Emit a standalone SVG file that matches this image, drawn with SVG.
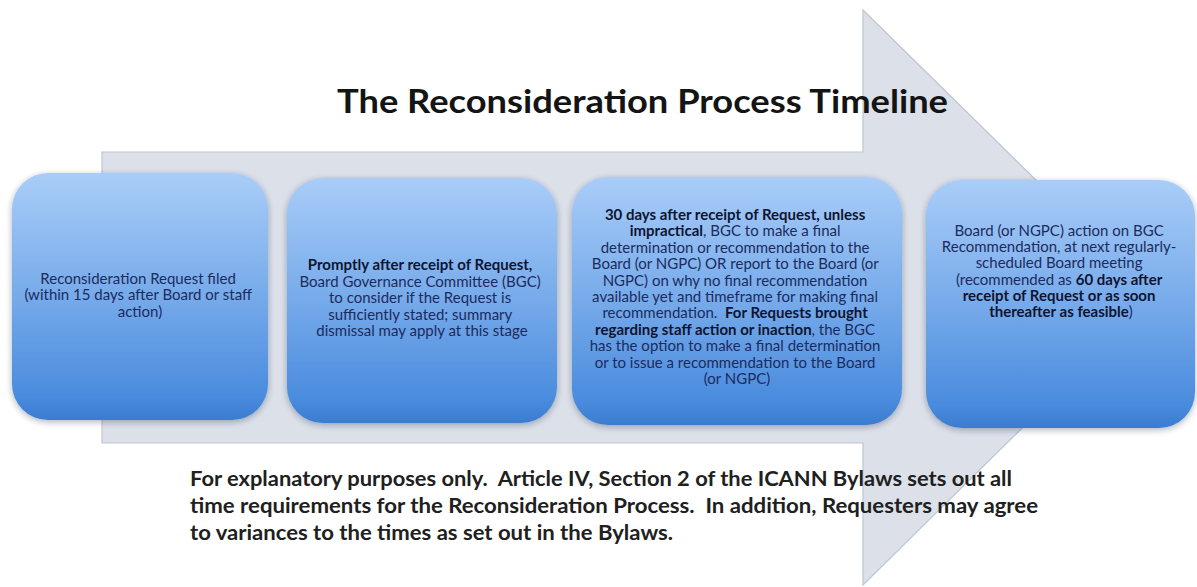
<svg xmlns="http://www.w3.org/2000/svg" width="1197" height="587" viewBox="0 0 1197 587">
  <style>
    .title { font-family: Lato, "Open Sans", "Liberation Sans", sans-serif; font-weight: 700; font-size: 33px; fill: #141414; }
    .note { font-family: Lato, "Open Sans", "Liberation Sans", sans-serif; font-weight: 700; font-size: 21px; fill: #202020; }
    .bt { font-family: Lato, "Open Sans", "Liberation Sans", sans-serif; font-size: 15px; fill: #1c2b5e; text-anchor: middle; }
    .b { font-weight: 700; fill: #0d1532; }
    .box { fill: url(#boxGrad); filter: url(#shadow); }
    .arrow { fill: #dbe0e9; stroke: #bfc6d1; stroke-width: 1.2; }
  </style>
  <defs>
    <linearGradient id="boxGrad" x1="0" y1="0" x2="0" y2="1">
      <stop offset="0" stop-color="#a9cdf8"/>
      <stop offset="0.5" stop-color="#76aaea"/>
      <stop offset="0.9" stop-color="#4a8cde"/>
      <stop offset="1" stop-color="#3b7cd0"/>
    </linearGradient>
    <filter id="shadow" x="-10%" y="-10%" width="120%" height="125%">
      <feDropShadow dx="0" dy="2" stdDeviation="3" flood-color="#1a2a4a" flood-opacity="0.35"/>
    </filter>
  </defs>
  <rect width="1197" height="587" fill="#ffffff"/>

  <g id="connectors">
    <polygon class="arrow" points="102,152 863,152 863,10 1155,297 863,585 863,443 102,443"/>
  </g>

  <g id="title">
    <text class="title" x="642.5" y="113" text-anchor="middle" textLength="611" lengthAdjust="spacingAndGlyphs">The Reconsideration Process Timeline</text>
  </g>

  <g id="node1">
    <rect class="box" x="12" y="173" width="256" height="247" rx="36"/>
    <text class="bt">
      <tspan x="140" y="284">Reconsideration Request filed</tspan>
      <tspan x="140" y="300.4">(within 15 days after Board or staff</tspan>
      <tspan x="140" y="316.8">action)</tspan>
    </text>
  </g>

  <g id="node2">
    <rect class="box" x="287" y="178" width="270" height="245" rx="36"/>
    <text class="bt">
      <tspan x="422" y="270" class="b">Promptly after receipt of Request,</tspan>
      <tspan x="422" y="286.5">Board Governance Committee (BGC)</tspan>
      <tspan x="422" y="303">to consider if the Request is</tspan>
      <tspan x="422" y="319.5">sufficiently stated; summary</tspan>
      <tspan x="422" y="336">dismissal may apply at this stage</tspan>
    </text>
  </g>

  <g id="node3">
    <rect class="box" x="572" y="177" width="330" height="248" rx="36"/>
    <text class="bt">
      <tspan x="737" y="220" class="b">30 days after receipt of Request, unless</tspan>
      <tspan x="737" y="236.4"><tspan class="b">impractical</tspan>, BGC to make a final</tspan>
      <tspan x="737" y="252.8">determination or recommendation to the</tspan>
      <tspan x="737" y="269.2">Board (or NGPC) OR report to the Board (or</tspan>
      <tspan x="737" y="285.6">NGPC) on why no final recommendation</tspan>
      <tspan x="737" y="302">available yet and timeframe for making final</tspan>
      <tspan x="737" y="318.4">recommendation.&#160; <tspan class="b">For Requests brought</tspan></tspan>
      <tspan x="737" y="334.8"><tspan class="b">regarding staff action or inaction</tspan>, the BGC</tspan>
      <tspan x="737" y="351.2">has the option to make a final determination</tspan>
      <tspan x="737" y="367.6">or to issue a recommendation to the Board</tspan>
      <tspan x="737" y="384">(or NGPC)</tspan>
    </text>
  </g>

  <g id="node4">
    <rect class="box" x="926" y="180" width="269" height="248" rx="36"/>
    <text class="bt">
      <tspan x="1061" y="236">Board (or NGPC) action on BGC</tspan>
      <tspan x="1061" y="252.2">Recommendation, at next regularly-</tspan>
      <tspan x="1061" y="268.4">scheduled Board meeting</tspan>
      <tspan x="1061" y="284.6">(recommended as <tspan class="b">60 days after</tspan></tspan>
      <tspan x="1061" y="300.8" class="b">receipt of Request or as soon</tspan>
      <tspan x="1061" y="317"><tspan class="b">thereafter as feasible</tspan>)</tspan>
    </text>
  </g>

  <g id="footnote">
    <text class="note" x="190" y="486" textLength="822" lengthAdjust="spacingAndGlyphs">For explanatory purposes only.&#160; Article IV, Section 2 of the ICANN Bylaws sets out all</text>
    <text class="note" x="190" y="513" textLength="848" lengthAdjust="spacingAndGlyphs">time requirements for the Reconsideration Process.&#160; In addition, Requesters may agree</text>
    <text class="note" x="190" y="540" textLength="483" lengthAdjust="spacingAndGlyphs">to variances to the times as set out in the Bylaws.</text>
  </g>
</svg>
